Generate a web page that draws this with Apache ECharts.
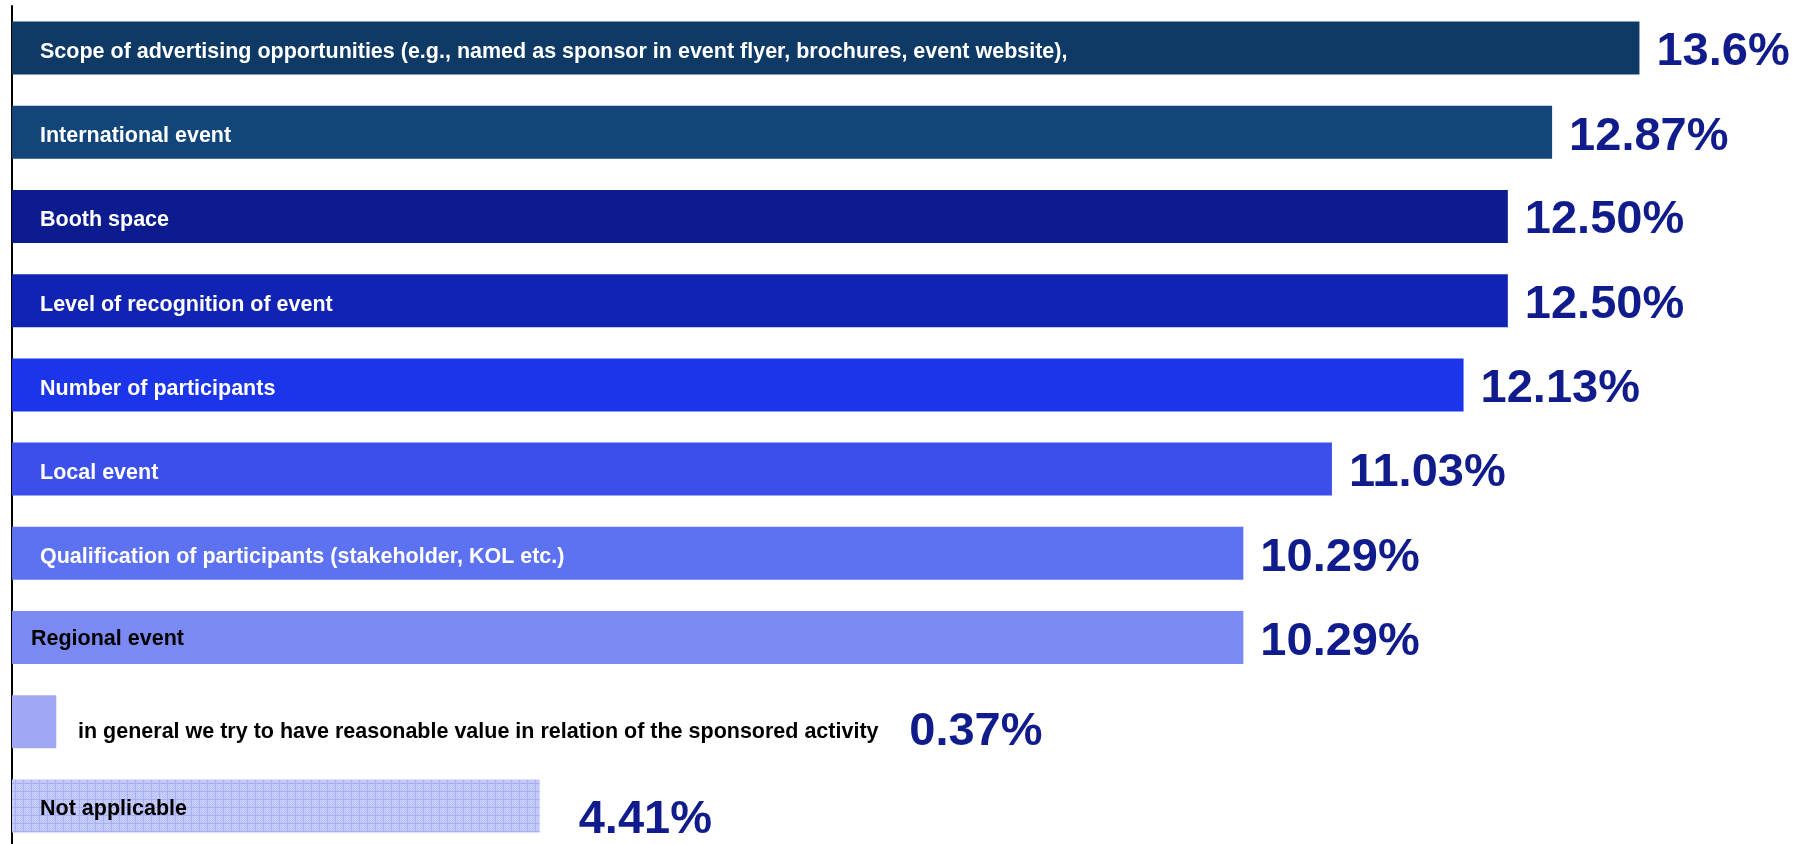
<!DOCTYPE html>
<html>
<head>
<meta charset="utf-8">
<script src="https://cdn.jsdelivr.net/npm/echarts@6/dist/echarts.min.js"></script>
<style>
  html, body { margin: 0; padding: 0; background: #ffffff; }
  #chart { width: 1798px; height: 844px; }
</style>
</head>
<body>
<div id="chart"></div>
<script>
// Sponsorship decision criteria, share of answers (%)
const categories = [
  'Scope of advertising opportunities (e.g., named as sponsor in event flyer, brochures, event website),',
  'International event',
  'Booth space',
  'Level of recognition of event',
  'Number of participants',
  'Local event',
  'Qualification of participants (stakeholder, KOL etc.)',
  'Regional event',
  'in general we try to have reasonable value in relation of the sponsored activity',
  'Not applicable'
];
const values = [13.6, 12.87, 12.5, 12.5, 12.13, 11.03, 10.29, 10.29, 0.37, 4.41];
const valueLabels = ['13.6%', '12.87%', '12.50%', '12.50%', '12.13%', '11.03%', '10.29%', '10.29%', '0.37%', '4.41%'];

const barColors = ['#0f3a65', '#12467a', '#0c1c8f', '#1123b2', '#1b35ea', '#3c4feb', '#5d72f0', '#7b8af2', '#a0a8f5', null];
const nameColors = ['#ffffff', '#ffffff', '#ffffff', '#ffffff', '#ffffff', '#ffffff', '#ffffff', '#000000', '#000000', '#000000'];

// Per-item label placement (px from the bar's left edge / right end)
const nameInset = [28, 28, 28, 28, 28, 28, 28, 19, 66, 28];
const nameShiftY = [4, 4, 4, 4, 4, 4, 4, 2, 10, 3];
const valueGap = [17, 17, 17, 17, 17, 17, 17, 17, 853, 39];
const valueShiftY = [4, 5, 4, 4, 4, 4, 5, 5, 10, 14];

// Light grid-textured fill for the last bar
function gridPattern() {
  const c = document.createElement('canvas');
  c.width = 8; c.height = 8;
  const g = c.getContext('2d');
  g.fillStyle = '#c9cff9';
  g.fillRect(0, 0, 8, 8);
  g.fillStyle = '#bcc3f7';
  for (let y = 0; y < 8; y++) {
    for (let x = (y % 2); x < 8; x += 2) g.fillRect(x, y, 1, 1);
  }
  g.fillStyle = '#a6aff3';
  g.fillRect(7, 0, 1, 8);
  g.fillRect(0, 7, 8, 1);
  return { image: c, repeat: 'repeat' };
}

const chart = echarts.init(document.getElementById('chart'), null, { renderer: 'canvas' });

const barData = values.map((v, i) => ({
  value: v,
  itemStyle: { color: barColors[i] || gridPattern() },
  label: {
    distance: valueGap[i],
    offset: [0, valueShiftY[i]]
  }
}));

const nameData = values.map((v, i) => ({
  value: v,
  label: {
    position: [nameInset[i], '50%'],
    offset: [0, nameShiftY[i]],
    color: nameColors[i]
  }
}));

chart.setOption({
  animation: false,
  backgroundColor: '#ffffff',
  grid: {
    left: 12, top: 6, height: 842, width: 1795,
    containLabel: false,
    outerBoundsMode: 'none'
  },
  xAxis: {
    type: 'value',
    min: 0,
    max: 15,
    show: false
  },
  yAxis: {
    type: 'category',
    data: categories,
    inverse: true,
    offset: 1,
    axisLine: { show: true, lineStyle: { color: '#000000', width: 2 } },
    axisTick: { show: false },
    axisLabel: { show: false },
    splitLine: { show: false }
  },
  series: [
    {
      name: 'Share',
      type: 'bar',
      barCategoryGap: '37%',
      data: barData,
      label: {
        show: true,
        position: 'right',
        fontFamily: 'Liberation Sans, Arial, sans-serif',
        fontWeight: 'bold',
        fontSize: 47,
        color: '#101c8c',
        formatter: p => valueLabels[p.dataIndex]
      },
      z: 2
    },
    {
      name: 'Criterion',
      type: 'bar',
      barGap: '-100%',
      barCategoryGap: '37%',
      silent: true,
      itemStyle: { color: 'rgba(0,0,0,0)' },
      data: nameData,
      label: {
        show: true,
        align: 'left',
        verticalAlign: 'middle',
        fontFamily: 'Liberation Sans, Arial, sans-serif',
        fontWeight: 'bold',
        fontSize: 21.5,
        formatter: p => categories[p.dataIndex]
      },
      z: 3
    }
  ]
});
</script>
</body>
</html>
